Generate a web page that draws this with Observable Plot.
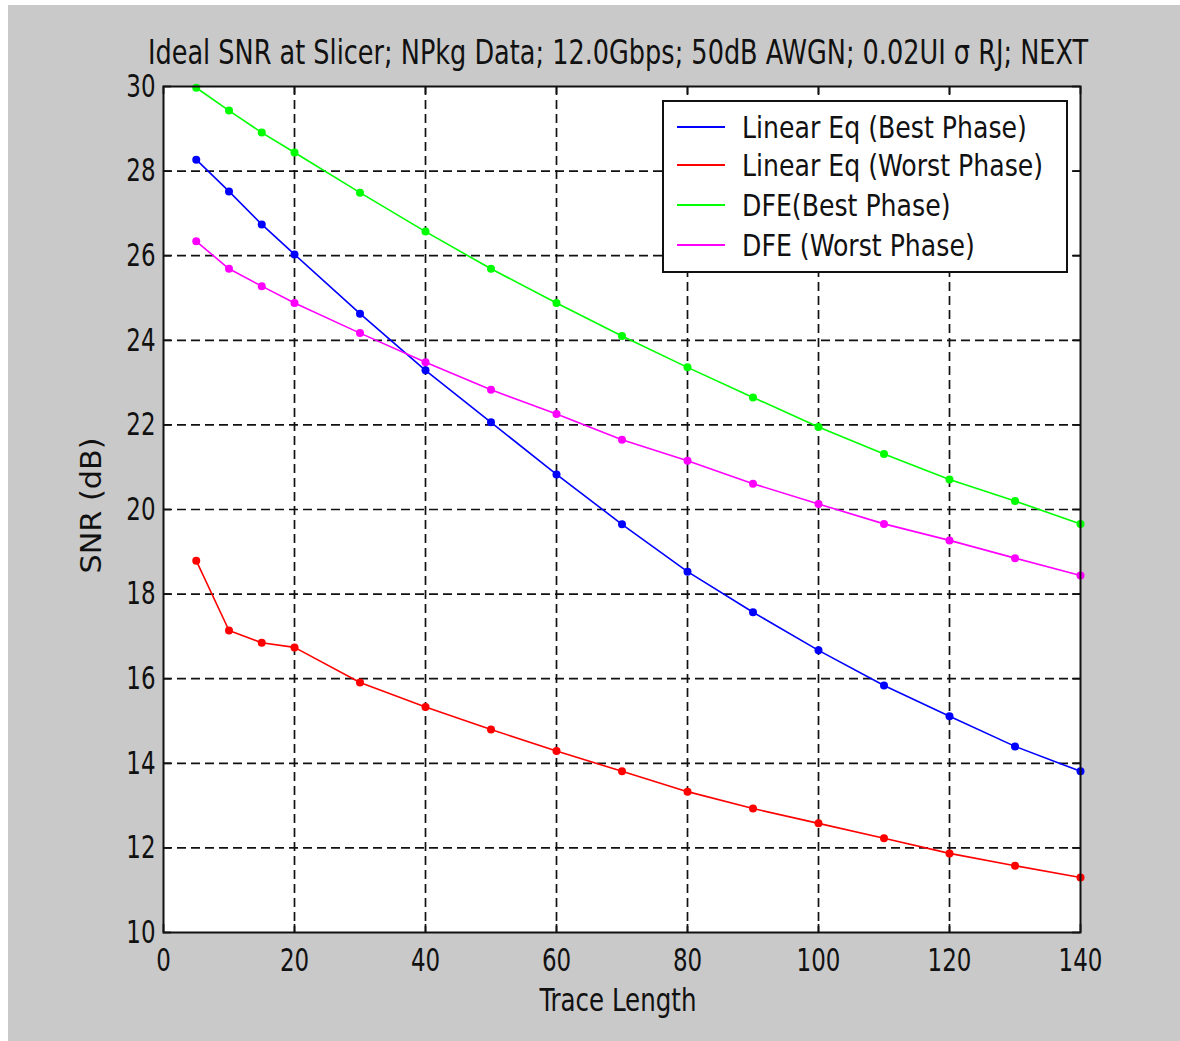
<!DOCTYPE html>
<html>
<head>
<meta charset="utf-8">
<script src="https://cdn.jsdelivr.net/npm/d3@7"></script>
<script src="https://cdn.jsdelivr.net/npm/@observablehq/plot@0.6"></script>
<style>
  html, body { margin: 0; padding: 0; background: #ffffff; }
  #page { position: absolute; left: 8px; top: 5px; width: 1172px; height: 1036px; background: #c9c9c9; }
  #chart svg { display: block; }
  #legend {
    position: absolute; left: 654px; top: 95px; width: 402px; height: 169px;
    background: #ffffff; border: 2px solid #111;
    font-family: "Liberation Sans Narrow", "DejaVu Sans Condensed", "Arial Narrow", sans-serif;
    font-size: 28px; color: #111;
  }
  .row { position: absolute; left: 0; height: 36px; display: flex; align-items: center; }
  .row span { display: inline-block; transform: scale(1.0, 1.1); transform-origin: left center; }
  .swatch { width: 48px; height: 0; border-top: 2px solid; margin-left: 13px; margin-right: 17px; }
</style>
</head>
<body>
<div id="page">
  <div id="chart"></div>
  <div id="legend"></div>
</div>
<script>
// Trace length sweep and slicer SNR (dB) for each equaliser / sampling phase
const traceLength = [5, 10, 15, 20, 30, 40, 50, 60, 70, 80, 90, 100, 110, 120, 130, 140];
const linearBest  = [28.27, 27.52, 26.74, 26.03, 24.63, 23.29, 22.06, 20.83, 19.65, 18.53, 17.57, 16.67, 15.84, 15.11, 14.40, 13.81];
const linearWorst = [18.79, 17.14, 16.85, 16.74, 15.91, 15.33, 14.80, 14.29, 13.81, 13.33, 12.93, 12.58, 12.23, 11.87, 11.58, 11.30];
const dfeBest     = [29.97, 29.43, 28.91, 28.44, 27.49, 26.57, 25.69, 24.88, 24.10, 23.36, 22.65, 21.95, 21.31, 20.71, 20.20, 19.66];
const dfeWorst    = [26.34, 25.69, 25.28, 24.88, 24.17, 23.48, 22.83, 22.26, 21.65, 21.15, 20.61, 20.13, 19.66, 19.27, 18.85, 18.44];

const seriesNames  = ["Linear Eq (Best Phase)", "Linear Eq (Worst Phase)", "DFE(Best Phase)", "DFE (Worst Phase)"];
const seriesValues = [linearBest, linearWorst, dfeBest, dfeWorst];
const seriesColors = ["#0000ff", "#ff0000", "#00ff00", "#ff00ff"];

const xTicks = [0, 20, 40, 60, 80, 100, 120, 140];
const yTicks = [10, 12, 14, 16, 18, 20, 22, 24, 26, 28, 30];

const titleText = "Ideal SNR at Slicer; NPkg Data; 12.0Gbps; 50dB AWGN; 0.02UI \u03c3 RJ; NEXT";
const xLabel = "Trace Length";
const yLabel = "SNR (dB)";

// Long-form table for the line and dot marks
const rows = seriesNames.flatMap((name, i) =>
  traceLength.map((t, j) => ({series: name, length: t, snr: seriesValues[i][j]})));

const W = 1172, H = 1036;
const mL = 155, mR = 100, mT = 81, mB = 109;
const plotW = W - mL - mR, plotH = H - mT - mB;
const tickLen = 8;
const font = '"Liberation Sans Narrow", "DejaVu Sans Condensed", "Arial Narrow", sans-serif';
const ink = "#111";

const innerX = xTicks.filter(v => v > 0 && v < 140);
const innerY = yTicks.filter(v => v > 10 && v < 30);

const chart = Plot.plot({
  width: W, height: H,
  marginLeft: mL, marginRight: mR, marginTop: mT, marginBottom: mB,
  style: {background: "transparent", fontFamily: font, color: ink},
  x: {domain: [0, 140], axis: null},
  y: {domain: [10, 30], axis: null},
  color: {domain: seriesNames, range: seriesColors},
  marks: [
    Plot.frame({fill: "white"}),
    // dashed grid
    Plot.ruleX(innerX, {x: d => d, stroke: ink, strokeWidth: 1.7, strokeDasharray: "9,5"}),
    Plot.ruleY(innerY, {y: d => d, stroke: ink, strokeWidth: 1.7, strokeDasharray: "9,5"}),
    // inward ticks on all four sides
    Plot.tickX(xTicks, {x: d => d, insetTop: plotH - tickLen, stroke: ink, strokeWidth: 1.7}),
    Plot.tickX(xTicks, {x: d => d, insetBottom: plotH - tickLen, stroke: ink, strokeWidth: 1.7}),
    Plot.tickY(yTicks, {y: d => d, insetRight: plotW - tickLen, stroke: ink, strokeWidth: 1.7}),
    Plot.tickY(yTicks, {y: d => d, insetLeft: plotW - tickLen, stroke: ink, strokeWidth: 1.7}),
    // data
    Plot.line(rows, {x: "length", y: "snr", z: "series", stroke: "series", strokeWidth: 1.6}),
    Plot.dot(rows, {x: "length", y: "snr", fill: "series", r: 4}),
    Plot.frame({stroke: ink, strokeWidth: 2}),
    // tick labels
    Plot.text(xTicks, {x: d => d, frameAnchor: "bottom", lineAnchor: "middle", dy: 28, text: d => String(d), fontSize: 29, fill: ink}),
    Plot.text(yTicks, {y: d => d, frameAnchor: "left", lineAnchor: "middle", dx: -8, textAnchor: "end", text: d => String(d), fontSize: 29, fill: ink}),
    // titles
    Plot.text([titleText], {frameAnchor: "top", lineAnchor: "middle", dx: -4, dy: -33, fontSize: 29, fill: ink}),
    Plot.text([xLabel], {frameAnchor: "bottom", lineAnchor: "middle", dx: -4, dy: 68, fontSize: 29, fill: ink}),
    Plot.text([yLabel], {frameAnchor: "left", lineAnchor: "middle", textAnchor: "middle", dx: -71, dy: -4, rotate: -90, fontSize: 28, fill: ink})
  ]
});
document.getElementById("chart").appendChild(chart);

// Tall, narrow lettering: stretch each text about its own anchor point
const textStretch = [[0.88, 1.1], [0.88, 1.1], [0.98, 1.15], [0.94, 1.13], [1.2, 1.0]];
chart.querySelectorAll('g[aria-label="text"]').forEach((g, i) => {
  const [sx, sy] = textStretch[i] || [1, 1];
  g.querySelectorAll("text").forEach(t => {
    const tr = t.getAttribute("transform") || "";
    t.setAttribute("transform", `${tr} scale(${sx},${sy})`);
  });
});

// Legend box
const legend = document.getElementById("legend");
const rowTops = [7, 45, 85, 125];
seriesNames.forEach((name, i) => {
  const row = document.createElement("div");
  row.className = "row";
  row.style.top = rowTops[i] + "px";
  const sw = document.createElement("div");
  sw.className = "swatch";
  sw.style.borderTopColor = seriesColors[i];
  const label = document.createElement("span");
  label.textContent = name;
  row.appendChild(sw);
  row.appendChild(label);
  legend.appendChild(row);
});
</script>
</body>
</html>
